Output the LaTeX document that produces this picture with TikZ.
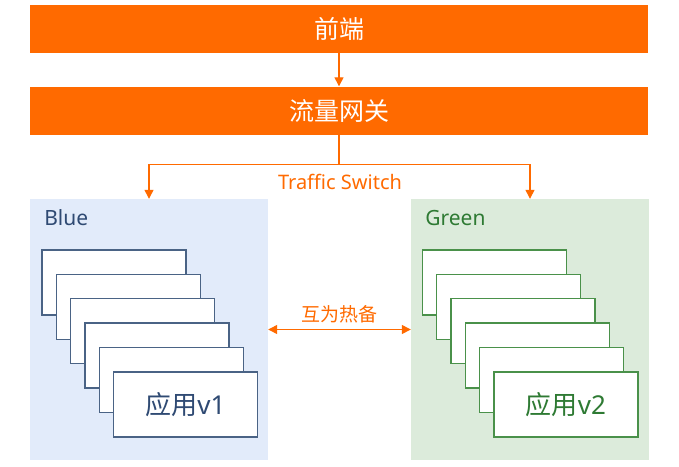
\documentclass[tikz,border=0pt]{standalone}
\usepackage{fontspec}
\newfontfamily\cjk{Noto Sans CJK SC}
\newfontfamily\latin{Noto Sans}
\usetikzlibrary{positioning, arrows.meta}

\definecolor{aliorange}{HTML}{FF6A00}
\definecolor{bluefill}{HTML}{E2EBFA}
\definecolor{blueline}{HTML}{4A6385}
\definecolor{bluetext}{HTML}{2F4A73}
\definecolor{greenfill}{HTML}{DCEBDB}
\definecolor{greenline}{HTML}{4A914A}
\definecolor{greentext}{HTML}{2E7A33}

\begin{document}
\begin{tikzpicture}[
  x=1pt, y=-1pt,
  bar/.style={rectangle, fill=aliorange, text=white,
              minimum width=618pt, minimum height=48pt,
              font=\cjk\fontsize{25}{29}\selectfont},
  zone/.style={rectangle, minimum width=238pt, minimum height=261pt},
  bluezone/.style={zone, fill=bluefill},
  greenzone/.style={zone, fill=greenfill},
  card/.style={rectangle, draw, fill=white, line width=1.3pt,
               minimum width=144pt, minimum height=65pt,
               font=\cjk\fontsize{26}{30}\selectfont},
  tag/.style={anchor=west, font=\latin\fontsize{21}{25}\selectfont},
  arr/.style={-{Triangle[length=9pt,width=9pt]}, aliorange, line width=1.3pt},
  lbl/.style={text=aliorange, font=\cjk\fontsize{19}{23}\selectfont}
]
  \useasboundingbox (0,0) rectangle (679,466);

  % Top bars
  \node[bar] (front) at (339,29) {前端};
  \node[bar] (gw)    at (339,110.5) {流量网关};

  % Blue / Green zones
  \node[bluezone]  (blue)  at (149,329.5) {};
  \node[greenzone] (green) at (530,329.5) {};
  \node[tag, text=bluetext]  (bluetag)  at ([xshift=11pt,yshift=-19pt]blue.north west)  {Blue};
  \node[tag, text=greentext] (greentag) at ([xshift=11pt,yshift=-19pt]green.north west) {Green};

  % Stacked apps
  \foreach \i in {0,...,4} {
    \node[card, draw=blueline]  (b\i) at (114+\i*14.3, 282.5+\i*24.3) {};
    \node[card, draw=greenline] (g\i) at (494.5+\i*14.3, 282.5+\i*24.3) {};
  }
  \node[card, draw=blueline, text=bluetext]    (b5) at (185.5,404.5) {应用{\latin v1}};
  \node[card, draw=greenline, text=greentext]  (g5) at (566,404.5)   {应用{\latin v2}};

  % Arrows
  \draw[arr] (front.south) -- (gw.north);
  \coordinate (split) at ([yshift=-30pt]gw.south);
  \draw[aliorange, line width=1.3pt] (gw.south) -- (split);
  \draw[arr] (split) -| (blue.north);
  \draw[arr] (split) -| (green.north);
  \node[lbl, font=\latin\fontsize{20}{24}\selectfont] (switch) at (340,182) {Traffic Switch};
  \draw[arr, {Triangle[length=9pt,width=9pt]}-{Triangle[length=9pt,width=9pt]}]
    (blue.east) -- node[lbl, above=2pt] (hot) {互为热备} (green.west);
\end{tikzpicture}
\end{document}
